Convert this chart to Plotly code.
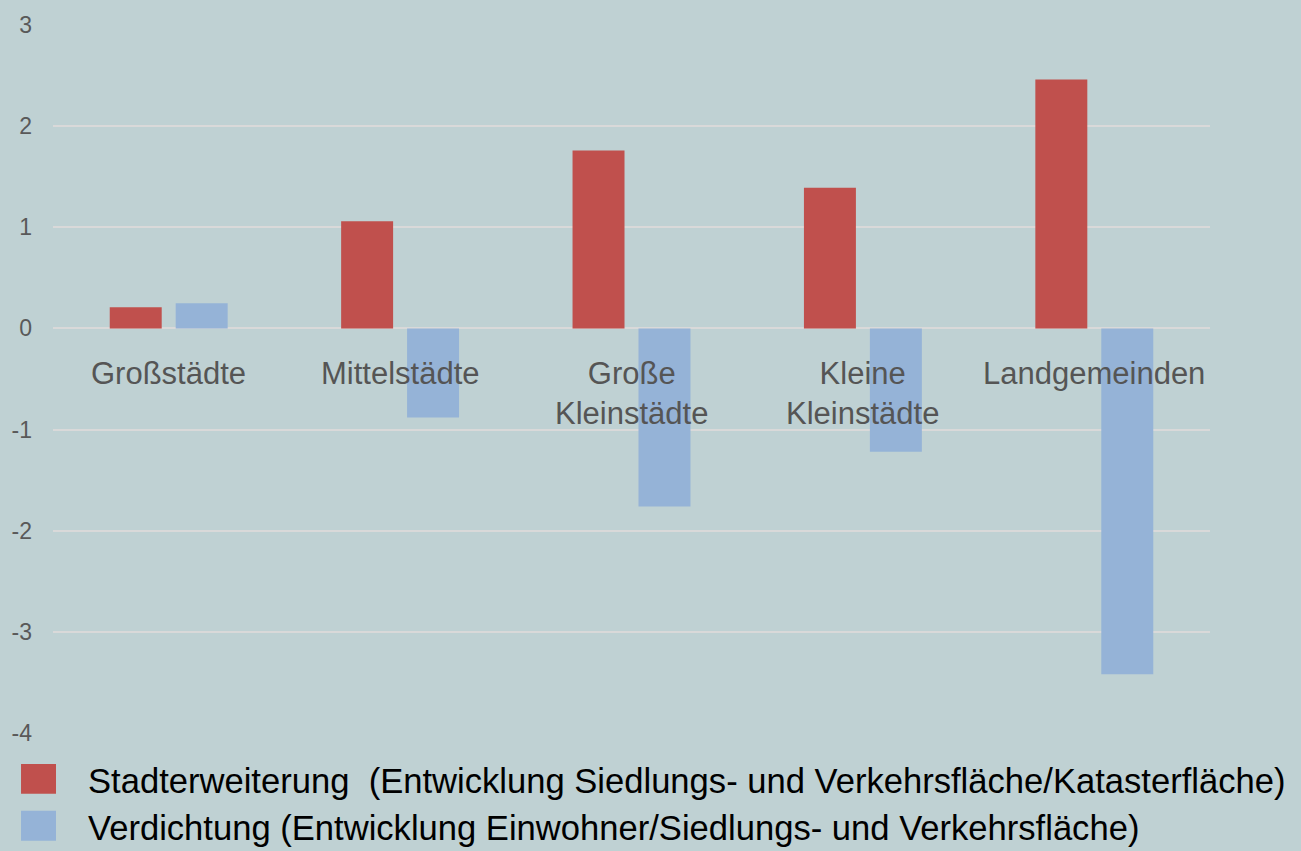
import plotly.graph_objects as go

categories = ["Großstädte", "Mittelstädte", "Große Kleinstädte", "Kleine Kleinstädte", "Landgemeinden"]
category_labels = ["Großstädte", "Mittelstädte", "Große<br>Kleinstädte", "Kleine<br>Kleinstädte", "Landgemeinden"]
stadterweiterung = [0.21, 1.06, 1.76, 1.39, 2.46]
verdichtung = [0.25, -0.88, -1.76, -1.22, -3.42]
series_names = [
    "Stadterweiterung  (Entwicklung Siedlungs- und Verkehrsfläche/Katasterfläche)",
    "Verdichtung (Entwicklung Einwohner/Siedlungs- und Verkehrsfläche)",
]
y_ticks = [3, 2, 1, 0, -1, -2, -3, -4]

RED = "#C0504D"
BLUE = "#95B3D7"
BG = "#BFD1D3"
FONT = "Liberation Sans Narrow, Arial Narrow, Liberation Sans, Arial, sans-serif"

W, H = 1301, 851
ML, MR, MT, MB = 52, 91, 23, 118
PW, PH = W - ML - MR, H - MT - MB

fig = go.Figure()
fig.add_trace(go.Bar(x=categories, y=stadterweiterung, name=series_names[0],
                     marker=dict(color=RED, line=dict(width=0)), showlegend=False))
fig.add_trace(go.Bar(x=categories, y=verdichtung, name=series_names[1],
                     marker=dict(color=BLUE, line=dict(width=0)), showlegend=False))

annotations = []
for cat, lab in zip(categories, category_labels):
    annotations.append(dict(x=cat, y=-0.25, xref="x", yref="y", text=lab, showarrow=False,
                            xanchor="center", yanchor="top",
                            font=dict(family=FONT, size=31, color="#555555")))

def px_x(px):
    return (px - ML) / PW

def px_y(py):
    return (H - MB - py) / PH

shapes = []
legend_rows = [(RED, 779, series_names[0]), (BLUE, 826, series_names[1])]
for color, cy, txt in legend_rows:
    x0, x1 = px_x(20), px_x(55)
    y0, y1 = px_y(cy + 15), px_y(cy - 15)
    shapes.append(dict(type="rect", xref="paper", yref="paper", x0=x0, x1=x1, y0=y0, y1=y1,
                       fillcolor=color, line=dict(width=0), layer="above"))
    annotations.append(dict(x=px_x(85), y=px_y(cy + 2), xref="paper", yref="paper", text=txt,
                            showarrow=False, xanchor="left", yanchor="middle",
                            font=dict(family=FONT, size=34.6, color="#000000")))

fig.update_layout(
    width=W, height=H,
    margin=dict(l=ML, r=MR, t=MT, b=MB),
    paper_bgcolor=BG, plot_bgcolor=BG,
    barmode="group", bargap=0.43, bargroupgap=0.212,
    font=dict(family=FONT, color="#595959"),
    xaxis=dict(showticklabels=False, showgrid=False, zeroline=False, showline=False, ticks=""),
    yaxis=dict(range=[-4, 3], tickvals=y_ticks, ticktext=[str(v) for v in y_ticks],
               showgrid=True, gridcolor="#D9D9D9", gridwidth=2,
               zeroline=True, zerolinecolor="#D9D9D9", zerolinewidth=2,
               showline=False, ticks="", ticklabelstandoff=20,
               tickfont=dict(family=FONT, size=23, color="#595959")),
    annotations=annotations,
    shapes=shapes,
)

fig.write_html("out.html", config={"displayModeBar": False},
               post_script="document.body.style.margin='0px';document.body.style.padding='0px';")
